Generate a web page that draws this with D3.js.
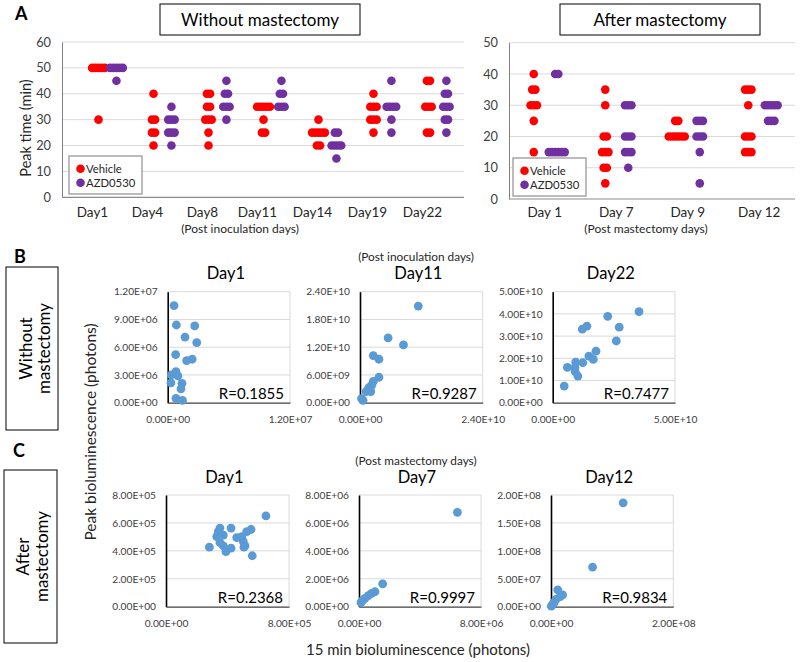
<!DOCTYPE html>
<html><head><meta charset="utf-8">
<script src="https://cdn.jsdelivr.net/npm/d3@7"></script>
<style>body{margin:0;background:#fff;} svg{display:block;}</style>
</head><body><svg id="c" width="800" height="662"></svg>
<script>
// ---------- Panel A data: [value, number of mice] ----------
const aLeftDays = ["Day1","Day4","Day8","Day11","Day14","Day19","Day22"];
const aLeftVehicle = [
  [[50,5],[30,1]],
  [[40,1],[30,2],[25,2],[20,1]],
  [[40,2],[35,2],[30,3],[25,1],[20,1]],
  [[35,5],[30,1],[25,2]],
  [[30,1],[25,5],[20,2]],
  [[40,1],[35,3],[30,3],[25,1]],
  [[45,2],[35,3],[25,2]]
];
const aLeftAZD = [
  [[50,5],[45,1]],
  [[35,1],[30,3],[25,3],[20,1]],
  [[45,1],[40,2],[35,3],[30,1]],
  [[45,1],[40,2],[35,3]],
  [[25,2],[20,4],[15,1]],
  [[45,1],[35,4],[30,1],[25,1]],
  [[45,1],[40,2],[35,3],[30,2],[25,1]]
];
const aLeftTicks = [0,10,20,30,40,50,60];
const aRightDays = ["Day 1","Day 7","Day 9","Day 12"];
const aRightVehicle = [
  [[40,1],[35,2],[30,3],[25,1],[15,1]],
  [[35,1],[30,1],[20,2],[15,3],[10,2],[5,1]],
  [[25,2],[20,6]],
  [[35,3],[30,1],[20,3],[15,3]]
];
const aRightAZD = [
  [[40,2],[15,6]],
  [[30,3],[20,3],[15,3],[10,1]],
  [[25,3],[20,3],[15,1],[5,1]],
  [[30,5],[25,3]]
];
const aRightTicks = [0,10,20,30,40,50];
const seriesNames = ["Vehicle","AZD0530"];

// ---------- Panels B / C data: [15 min, peak] ----------
const bDay1 = [[6.2e5,1.05e7],[8.5e5,8.4e6],[2.65e6,8.3e6],[1.7e6,7.1e6],[2.85e6,6.5e6],[7.8e5,5.2e6],
  [1.86e6,4.55e6],[2.4e6,4.7e6],[8.1e5,3.35e6],[3.5e5,3.0e6],[1.0e6,2.9e6],[3.2e5,2.15e6],[1.4e6,2.1e6],
  [1.3e6,1.5e6],[8.1e5,4.7e5],[1.45e6,2.6e5]];
const bDay11 = [[1.14e10,2.09e10],[5.5e9,1.40e10],[8.5e9,1.25e10],[2.6e9,1.02e10],[3.7e9,9.4e9],[3.7e9,5.5e9],
  [2.6e9,4.6e9],[2.3e9,3.8e9],[1.8e9,3.3e9],[1.6e9,2.9e9],[1.2e9,2.4e9],[2.1e9,2.4e9],[3.0e8,9e8],[6e8,5e8]];
const bDay22 = [[3.53e10,4.10e10],[2.25e10,3.89e10],[2.72e10,3.40e10],[1.40e10,3.45e10],[1.21e10,3.31e10],
  [2.60e10,2.78e10],[1.77e10,2.32e10],[1.48e10,2.10e10],[1.66e10,1.95e10],[1.23e10,1.80e10],[0.94e10,1.83e10],
  [0.60e10,1.59e10],[0.91e10,1.58e10],[0.92e10,1.40e10],[1.03e10,1.20e10],[0.47e10,0.75e10]];
const cDay1 = [[6.50e5,6.51e5],[3.51e5,5.63e5],[4.23e5,5.63e5],[3.40e5,5.37e5],[5.53e5,5.53e5],[5.25e5,5.37e5],
  [3.73e5,5.13e5],[3.30e5,5.02e5],[4.60e5,4.95e5],[4.93e5,5.02e5],[5.03e5,4.66e5],[3.51e5,4.59e5],
  [3.73e5,4.36e5],[5.14e5,4.36e5],[2.82e5,4.26e5],[4.23e5,4.19e5],[5.07e5,4.26e5],[3.90e5,3.94e5],[5.61e5,3.65e5]];
const cDay7 = [[6.45e6,6.76e6],[1.55e6,1.63e6],[1.05e6,1.07e6],[8.3e5,9.6e5],[6.1e5,7.9e5],[3.9e5,6.0e5],
  [2.2e5,4.3e5],[1.3e5,2.9e5]];
const cDay12 = [[1.18e8,1.86e8],[6.8e7,7.1e7],[1.1e7,3.0e7],[1.9e7,2.1e7],[1.5e7,1.8e7],[8e6,1.3e7],
  [5e6,7e6],[2.8e6,4.8e6],[5e5,1e6]];
const scatterTitles = ["Day1","Day11","Day22","Day1","Day7","Day12"];
const scatterR = ["R=0.1855","R=0.9287","R=0.7477","R=0.2368","R=0.9997","R=0.9834"];
const scatterXMax = [1.2e7,2.4e10,5e10,8e5,8e6,2e8];
const scatterYTicks = [
  [0,3e6,6e6,9e6,1.2e7],
  [0,6e9,1.2e10,1.8e10,2.4e10],
  [0,1e10,2e10,3e10,4e10,5e10],
  [0,2e5,4e5,6e5,8e5],
  [0,2e6,4e6,6e6,8e6],
  [0,5e7,1e8,1.5e8,2e8]
];

// ---------- drawing ----------
const FONT = "Lato, 'Open Sans', sans-serif";
const RED = "#ff0000", PURPLE = "#7030a0", BLUE = "#5b9bd5";
const svg = d3.select("#c").attr("font-family", FONT);

function fmtE(v){
  if (v === 0) return "0.00E+00";
  const e = Math.floor(Math.log10(Math.abs(v)) + 1e-9);
  const m = v / Math.pow(10, e);
  return m.toFixed(2) + "E" + (e >= 0 ? "+" : "-") + String(Math.abs(e)).padStart(2, "0");
}

function txt(x, y, s, size, opts = {}) {
  const t = svg.append("text").attr("x", x).attr("y", y).text(s)
    .attr("font-size", size).attr("fill", opts.fill || "#000")
    .attr("text-anchor", opts.anchor || "middle");
  if (opts.weight) t.attr("font-weight", opts.weight);
  if (opts.rotate) t.attr("transform", `rotate(-90,${x},${y})`);
  return t;
}

function dots(g, y, groups, xpos, color) {
  const pts = [];
  groups.forEach((grp, i) => grp.forEach(([v, n]) => {
    for (let k = 0; k < n; k++) pts.push({x: xpos(i) + (k - (n - 1) / 2) * 3.2, y: y(v)});
  }));
  g.append("g").selectAll("circle").data(pts).join("circle")
    .attr("cx", d => d.x).attr("cy", d => d.y).attr("r", 4.3).attr("fill", color);
}

function dotFrame(left, top, w, h, ymax, ticks) {
  const g = svg.append("g").attr("transform", `translate(${left},${top})`);
  const y = d3.scaleLinear().domain([0, ymax]).range([h, 0]);
  g.selectAll("line.grid").data(ticks.filter(t => t > 0)).join("line")
    .attr("x1", 0).attr("x2", w).attr("y1", d => y(d)).attr("y2", d => y(d))
    .attr("stroke", "#d9d9d9");
  const ya = g.append("g").call(d3.axisLeft(y).tickValues(ticks).tickSize(0).tickSizeOuter(0).tickPadding(11));
  ya.select(".domain").attr("stroke", "#7f7f7f");
  ya.selectAll("text").attr("font-family", FONT).attr("font-size", 12.8).attr("fill", "#404040");
  g.append("line").attr("x1", 0).attr("x2", w).attr("y1", h).attr("y2", h).attr("stroke", "#8c8c8c").attr("stroke-width", 1.2);
  return {g, y};
}

function legend(x, y) {
  svg.append("rect").attr("x", x).attr("y", y).attr("width", 73).attr("height", 38)
    .attr("fill", "#fff").attr("stroke", "#a6a6a6").attr("stroke-width", 1.5);
  [RED, PURPLE].forEach((c, i) => {
    svg.append("circle").attr("cx", x + 11.5).attr("cy", y + 12.7 + i * 14).attr("r", 4.3).attr("fill", c);
    txt(x + 17, y + 16.8 + i * 14, seriesNames[i], 11.3, {anchor: "start", fill: "#262626"});
  });
}

// Panel A left
{
  const W = 402, H = 155.3;
  const {g, y} = dotFrame(62, 42, W, H, 60, aLeftTicks);
  const x = d3.scaleLinear().domain([0, 7.31]).range([0, W]);
  const xa = g.append("g").attr("transform", `translate(0,${H})`)
    .call(d3.axisBottom(x).tickValues(d3.range(aLeftDays.length).map(i => i + 0.545))
      .tickFormat((d, i) => aLeftDays[i]).tickSize(0).tickPadding(10));
  xa.select(".domain").remove();
  xa.selectAll("text").attr("font-family", FONT).attr("font-size", 13.5).attr("fill", "#262626");
  dots(g, y, aLeftVehicle, i => x(i + 0.664), RED);
  dots(g, y, aLeftAZD, i => x(i + 0.99), PURPLE);
  legend(69, 156);
}
// Panel A right
{
  const W = 286, H = 156.3;
  const {g, y} = dotFrame(509, 42.7, W, H, 50, aRightTicks);
  const x = d3.scaleBand().domain(aRightDays).range([0, W]);
  const xa = g.append("g").attr("transform", `translate(0,${H})`)
    .call(d3.axisBottom(x).tickSize(0).tickPadding(8));
  xa.select(".domain").remove();
  xa.selectAll("text").attr("font-family", FONT).attr("font-size", 13.5).attr("fill", "#262626");
  const c = i => x(aRightDays[i]) + x.bandwidth() / 2;
  dots(g, y, aRightVehicle, i => c(i) - 11, RED);
  dots(g, y, aRightAZD, i => c(i) + 12, PURPLE);
  legend(513, 158);
}
// Panel A titles
svg.append("rect").attr("x", 160).attr("y", 4).attr("width", 200).attr("height", 31).attr("fill", "none").attr("stroke", "#000");
svg.append("rect").attr("x", 560).attr("y", 4).attr("width", 200).attr("height", 31).attr("fill", "none").attr("stroke", "#000");
txt(260, 25.5, "Without mastectomy", 17);
txt(660, 25.5, "After mastectomy", 17);
txt(15, 19.5, "A", 18, {anchor: "start", weight: "bold"});
txt(31, 128, "Peak time (min)", 14.5, {rotate: true, fill: "#262626"});
txt(240, 233, "(Post inoculation days)", 12, {fill: "#262626"});
txt(646, 233, "(Post mastectomy days)", 12, {fill: "#262626"});

// Panels B and C
const scatterData = [bDay1, bDay11, bDay22, cDay1, cDay7, cDay12];
const scatterBoxes = [
  [167.7, 291.7, 122.3, 111], [360, 291.7, 122.7, 111], [552.7, 291.7, 122.3, 111],
  [166, 495, 123, 111.7], [359, 495, 122, 111.7], [551, 495, 122.3, 111.7]
];
scatterData.forEach((pts, i) => {
  const [left, top, w, h] = scatterBoxes[i];
  const yt = scatterYTicks[i];
  const g = svg.append("g").attr("transform", `translate(${left},${top})`);
  const x = d3.scaleLinear().domain([0, scatterXMax[i]]).range([0, w]);
  const y = d3.scaleLinear().domain([0, yt[yt.length - 1]]).range([h, 0]);
  g.selectAll("line.grid").data(yt.filter(t => t > 0)).join("line")
    .attr("x1", 0).attr("x2", w).attr("y1", d => y(d)).attr("y2", d => y(d)).attr("stroke", "#d9d9d9");
  g.append("line").attr("x1", w).attr("x2", w).attr("y1", 0).attr("y2", h).attr("stroke", "#d9d9d9");
  const ya = g.append("g").call(d3.axisLeft(y).tickValues(yt).tickFormat(fmtE).tickSize(0).tickSizeOuter(0).tickPadding(10));
  ya.select(".domain").attr("stroke", "#000").attr("stroke-width", 1.6);
  ya.selectAll("text").attr("font-family", FONT).attr("font-size", 10.2).attr("fill", "#404040");
  const xa = g.append("g").attr("transform", `translate(0,${h})`)
    .call(d3.axisBottom(x).tickValues([0, scatterXMax[i]]).tickFormat(fmtE).tickSize(0).tickSizeOuter(0).tickPadding(13));
  xa.select(".domain").attr("stroke", "#404040").attr("stroke-width", 1.2);
  xa.selectAll("text").attr("font-family", FONT).attr("font-size", 10.2).attr("fill", "#404040");
  g.append("g").selectAll("circle").data(pts).join("circle")
    .attr("cx", d => x(d[0])).attr("cy", d => y(d[1])).attr("r", 4.4).attr("fill", BLUE);
  g.append("text").attr("x", w - 6).attr("y", h - 3.5).attr("text-anchor", "end")
    .attr("font-size", 15).attr("fill", "#000").text(scatterR[i]);
  g.append("text").attr("x", w / 2 - 3).attr("y", -12.3).attr("text-anchor", "middle")
    .attr("font-size", 16.5).attr("fill", "#000").text(scatterTitles[i]);
});
txt(416, 260.5, "(Post inoculation days)", 11.8, {fill: "#262626"});
txt(416, 464.5, "(Post mastectomy days)", 11.8, {fill: "#262626"});

// side labels
txt(14, 263, "B", 18, {anchor: "start", weight: "bold"});
txt(13, 457, "C", 18, {anchor: "start", weight: "bold"});
svg.append("rect").attr("x", 6).attr("y", 267).attr("width", 52).attr("height", 163).attr("fill", "none").attr("stroke", "#000");
svg.append("rect").attr("x", 4).attr("y", 470).attr("width", 53).attr("height", 173).attr("fill", "none").attr("stroke", "#000");
txt(32, 348.5, "Without", 17, {rotate: true});
txt(50, 348.5, "mastectomy", 17, {rotate: true});
txt(29, 556.5, "After", 17, {rotate: true});
txt(48, 556.5, "mastectomy", 17, {rotate: true});
txt(96, 432, "Peak bioluminescence (photons)", 15.5, {rotate: true, fill: "#262626"});
txt(418, 655, "15 min bioluminescence (photons)", 15, {fill: "#262626"});
</script></body></html>
